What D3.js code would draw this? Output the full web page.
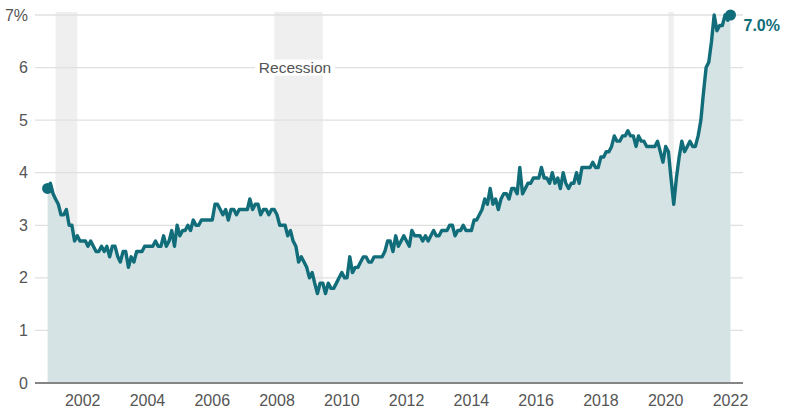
<!DOCTYPE html>
<html>
<head>
<meta charset="utf-8">
<script src="https://cdn.jsdelivr.net/npm/d3@7"></script>
<style>
  html, body { margin: 0; padding: 0; background: #fff; }
  svg { display: block; font-family: "Liberation Sans", Arial, sans-serif; }
</style>
</head>
<body>
<svg id="chart" width="786" height="410"></svg>
<script>
// monthly values, first one is Dec 2000, last one Jan 2022
let firstMonth = new Date(2000, 11, 1);
let values = [
  3.7,
  3.8, 3.6, 3.5, 3.4, 3.2, 3.2, 3.3, 3.0, 3.0, 2.7, 2.8, 2.7, // 2001
  2.7, 2.7, 2.6, 2.7, 2.6, 2.5, 2.5, 2.6, 2.5, 2.6, 2.4, 2.6, // 2002
  2.6, 2.4, 2.3, 2.5, 2.5, 2.2, 2.4, 2.3, 2.5, 2.5, 2.5, 2.6, // 2003
  2.6, 2.6, 2.6, 2.7, 2.6, 2.6, 2.8, 2.6, 2.7, 2.9, 2.6, 3.0, // 2004
  2.8, 2.9, 2.9, 3.0, 2.9, 3.1, 3.0, 3.0, 3.1, 3.1, 3.1, 3.1, // 2005
  3.1, 3.4, 3.4, 3.3, 3.2, 3.3, 3.1, 3.3, 3.3, 3.2, 3.3, 3.3, // 2006
  3.3, 3.3, 3.5, 3.3, 3.4, 3.4, 3.2, 3.3, 3.3, 3.2, 3.3, 3.3, // 2007
  3.2, 3.0, 3.0, 3.0, 2.8, 2.9, 2.7, 2.6, 2.3, 2.4, 2.3, 2.2, // 2008
  2.0, 2.1, 1.9, 1.7, 1.9, 1.9, 1.7, 1.9, 1.8, 1.8, 1.9, 2.0, // 2009
  2.1, 2.0, 2.0, 2.4, 2.1, 2.2, 2.2, 2.3, 2.4, 2.4, 2.3, 2.3, // 2010
  2.4, 2.4, 2.4, 2.4, 2.5, 2.7, 2.7, 2.5, 2.8, 2.6, 2.7, 2.8, // 2011
  2.7, 2.6, 2.9, 2.8, 2.8, 2.8, 2.7, 2.8, 2.7, 2.8, 2.9, 2.8, // 2012
  2.8, 2.9, 2.9, 2.9, 3.0, 3.0, 2.8, 2.9, 2.9, 3.0, 2.9, 2.9, // 2013
  2.9, 3.1, 3.1, 3.2, 3.3, 3.5, 3.4, 3.7, 3.4, 3.5, 3.3, 3.5, // 2014
  3.6, 3.6, 3.5, 3.7, 3.7, 3.6, 4.1, 3.6, 3.7, 3.8, 3.8, 3.9, // 2015
  3.9, 3.9, 4.1, 3.9, 3.9, 3.8, 4.0, 3.8, 3.9, 3.7, 4.0, 3.8, // 2016
  3.7, 3.8, 3.8, 4.0, 3.8, 4.1, 4.1, 4.1, 4.1, 4.2, 4.1, 4.1, // 2017
  4.3, 4.3, 4.4, 4.4, 4.5, 4.7, 4.6, 4.6, 4.7, 4.7, 4.8, 4.7, // 2018
  4.7, 4.5, 4.7, 4.6, 4.6, 4.5, 4.5, 4.5, 4.5, 4.6, 4.4, 4.2, // 2019
  4.5, 4.4, 3.9, 3.4, 3.9, 4.3, 4.6, 4.4, 4.5, 4.6, 4.5, 4.5, // 2020
  4.7, 5.0, 5.5, 6.0, 6.1, 6.5, 7.0, 6.7, 6.8, 6.8, 7.0, 6.9, // 2021
  7.0
];
let recessions = [
  [new Date(2001, 2, 1), new Date(2001, 10, 1)],
  [new Date(2007, 11, 1), new Date(2009, 5, 1)],
  [new Date(2020, 1, 1), new Date(2020, 3, 1)]
];
let yTicks = [0, 1, 2, 3, 4, 5, 6, 7];
let xTickYears = [2002, 2004, 2006, 2008, 2010, 2012, 2014, 2016, 2018, 2020, 2022];

let colorLine = '#116d79';
let colorArea = '#d6e3e5';
let colorBand = '#efefef';
let colorGrid = '#e0e0e0';
let colorText = '#555';

let data = values.map((v, i) => ({ date: d3.timeMonth.offset(firstMonth, i), value: v }));

let svg = d3.select('#chart');

let x = d3.scaleTime()
  .domain([new Date(2002, 0, 1), new Date(2022, 0, 1)])
  .range([82.7, 730.5]);
let y = d3.scaleLinear().domain([0, 7]).range([383, 15]);

let gridLeft = 35, gridRight = 743;

// recession bands
svg.append('g').selectAll('rect')
  .data(recessions)
  .join('rect')
  .attr('x', d => x(d[0]))
  .attr('width', d => x(d[1]) - x(d[0]))
  .attr('y', 12)
  .attr('height', y(0) - 12)
  .attr('fill', colorBand);

// gridlines
svg.append('g').selectAll('line')
  .data(yTicks.filter(d => d > 0))
  .join('line')
  .attr('x1', gridLeft).attr('x2', gridRight)
  .attr('y1', d => y(d)).attr('y2', d => y(d))
  .attr('stroke', colorGrid)
  .attr('stroke-width', 1.3);

// recession label
let lab = svg.append('g').attr('transform', `translate(295,${y(6)})`);
lab.append('rect')
  .attr('x', -40).attr('y', -8).attr('width', 80).attr('height', 16)
  .attr('fill', '#fff');
lab.append('text')
  .attr('text-anchor', 'middle')
  .attr('dy', '0.35em')
  .attr('font-size', 15.5)
  .attr('fill', colorText)
  .text('Recession');

// area + line
let area = d3.area()
  .x(d => x(d.date))
  .y0(y(0))
  .y1(d => y(d.value));
let line = d3.line()
  .x(d => x(d.date))
  .y(d => y(d.value));

svg.append('path')
  .datum(data)
  .attr('d', area)
  .attr('fill', colorArea);

// baseline
svg.append('line')
  .attr('x1', gridLeft).attr('x2', gridRight)
  .attr('y1', y(0)).attr('y2', y(0))
  .attr('stroke', '#858585')
  .attr('stroke-width', 2);

svg.append('path')
  .datum(data)
  .attr('d', line)
  .attr('fill', 'none')
  .attr('stroke', colorLine)
  .attr('stroke-width', 3.4)
  .attr('stroke-linejoin', 'round');

// end dots
let first = data[0], last = data[data.length - 1];
svg.append('circle')
  .attr('cx', x(first.date)).attr('cy', y(first.value))
  .attr('r', 5.5).attr('fill', colorLine);
svg.append('circle')
  .attr('cx', x(last.date)).attr('cy', y(last.value))
  .attr('r', 5.5).attr('fill', colorLine);
svg.append('text')
  .attr('x', x(last.date) + 13)
  .attr('y', y(last.value) + 15.5)
  .attr('font-size', 16)
  .attr('font-weight', 'bold')
  .attr('fill', colorLine)
  .text(last.value.toFixed(1) + '%');

// y axis labels
svg.append('g').selectAll('text')
  .data(yTicks)
  .join('text')
  .attr('x', 28)
  .attr('y', d => y(d))
  .attr('dy', '0.35em')
  .attr('text-anchor', 'end')
  .attr('font-size', 16)
  .attr('fill', colorText)
  .text(d => d === 7 ? d + '%' : d);

// x axis labels
svg.append('g').selectAll('text')
  .data(xTickYears)
  .join('text')
  .attr('x', d => x(new Date(d, 0, 1)))
  .attr('y', 406)
  .attr('text-anchor', 'middle')
  .attr('font-size', 16)
  .attr('fill', colorText)
  .text(d => d);
</script>
</body>
</html>
